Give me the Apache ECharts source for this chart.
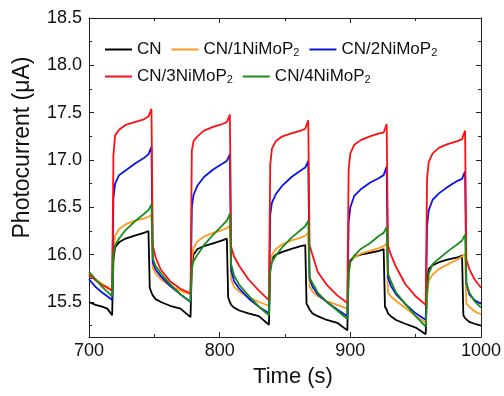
<!DOCTYPE html>
<html><head><meta charset="utf-8">
<script src="https://cdn.jsdelivr.net/npm/echarts@6/dist/echarts.min.js"></script>
<style>html,body{margin:0;padding:0;background:#fff}#c{width:504px;height:396px}</style>
</head><body><div id="c"></div>
<script>
const times = [700,705,710,714,
717.7,718.7,720,723,728,735,742,745.5,746.5,747.8,748.8,751,755,762,770,
777.7,778.7,780,783,788,795,802,805.5,806.5,807.8,808.8,811,815,822,830,
837.7,838.7,840,843,848,855,862,865.5,866.5,867.8,868.8,871,875,882,890,
897.7,898.7,900,903,908,915,922,925.5,926.5,927.8,928.8,931,935,942,950,
957.7,958.7,960,963,968,975,982,985.5,986.5,987.8,988.8,991,995,1000];

const cnValues = [15.50,15.47,15.45,15.43,
15.36,15.95,16.08,16.13,16.17,16.20,16.23,16.25,15.65,15.60,15.57,15.53,15.50,15.46,15.43,
15.34,15.90,16.00,16.06,16.09,16.12,16.15,16.17,15.55,15.50,15.47,15.44,15.41,15.38,15.35,
15.26,15.85,15.96,16.00,16.03,16.06,16.09,16.10,15.48,15.45,15.42,15.38,15.35,15.31,15.28,
15.20,15.82,15.94,15.98,16.00,16.02,16.04,16.06,15.45,15.42,15.38,15.35,15.31,15.27,15.23,
15.16,15.70,15.85,15.89,15.92,15.95,15.97,15.99,15.36,15.33,15.31,15.29,15.27,15.25];

const cn1Values = [15.80,15.74,15.69,15.66,
15.62,16.05,16.20,16.27,16.32,16.36,16.38,16.40,16.41,16.42,15.86,15.80,15.74,15.67,15.62,
15.58,15.95,16.07,16.14,16.19,16.23,16.26,16.28,16.29,16.31,15.74,15.66,15.61,15.55,15.50,
15.46,15.88,16.00,16.06,16.11,16.15,16.18,16.20,16.21,16.23,15.66,15.61,15.56,15.51,15.47,
15.43,15.80,15.92,15.97,16.01,16.04,16.07,16.09,16.10,16.12,15.60,15.56,15.51,15.44,15.35,
15.28,15.55,15.73,15.79,15.85,15.90,15.95,15.98,15.99,16.01,15.48,15.45,15.40,15.37];

const cn2Values = [15.74,15.66,15.60,15.56,
15.52,16.60,16.75,16.84,16.89,16.96,17.02,17.06,17.07,17.14,15.92,15.84,15.77,15.67,15.58,
15.50,16.50,16.63,16.73,16.82,16.90,16.96,16.99,17.00,17.06,15.84,15.72,15.64,15.54,15.45,
15.38,16.42,16.55,16.64,16.73,16.82,16.89,16.92,16.93,16.99,15.75,15.66,15.58,15.50,15.42,
15.35,16.35,16.50,16.62,16.69,16.76,16.81,16.84,16.86,16.93,15.76,15.67,15.58,15.48,15.38,
15.31,16.30,16.47,16.58,16.65,16.72,16.78,16.80,16.81,16.88,15.70,15.58,15.52,15.48];

const cn3Values = [15.79,15.73,15.68,15.65,
15.62,17.05,17.26,17.32,17.37,17.40,17.43,17.46,17.47,17.54,16.10,15.97,15.84,15.72,15.64,
15.59,17.10,17.20,17.25,17.31,17.35,17.38,17.40,17.41,17.48,16.08,15.98,15.88,15.74,15.62,
15.52,16.95,17.12,17.20,17.25,17.28,17.31,17.33,17.34,17.42,16.10,16.00,15.82,15.68,15.57,
15.49,16.90,17.07,17.16,17.21,17.25,17.28,17.29,17.30,17.38,16.10,16.00,15.87,15.69,15.56,
15.47,16.80,16.98,17.07,17.13,17.17,17.20,17.22,17.23,17.31,15.95,15.85,15.74,15.65];

const cn4Values = [15.82,15.74,15.66,15.61,
15.56,16.00,16.10,16.17,16.26,16.35,16.43,16.47,16.48,16.53,15.96,15.88,15.80,15.69,15.58,
15.50,15.85,15.93,16.00,16.10,16.21,16.31,16.36,16.37,16.43,15.90,15.78,15.68,15.57,15.45,
15.36,15.82,15.92,15.99,16.08,16.18,16.26,16.30,16.31,16.36,15.76,15.70,15.60,15.50,15.41,
15.32,15.80,15.92,15.99,16.06,16.12,16.20,16.23,16.25,16.29,15.80,15.72,15.60,15.48,15.35,
15.24,15.60,15.80,15.90,15.96,16.04,16.11,16.15,16.16,16.21,15.70,15.60,15.51,15.44];

const seriesNames = ['CN','CN/1NiMoP2','CN/2NiMoP2','CN/3NiMoP2','CN/4NiMoP2'];
const seriesColors = ['#000000','#ff9a1e','#0a14e6','#ff1010','#1a8c1a'];
const seriesValues = [cnValues, cn1Values, cn2Values, cn3Values, cn4Values];

const yMajorTicks = [15.5,16.0,16.5,17.0,17.5,18.0,18.5];
const yMinorTicks = [15.25,15.75,16.25,16.75,17.25,17.75,18.25];
const yMin = 15.13, yMax = 18.5;

const font = 'Liberation Sans, Arial, sans-serif';
const axisColor = '#222';

const chart = echarts.init(document.getElementById('c'), null, {renderer:'canvas'});

function legendFmt(name){
  return name.endsWith('P2') ? name.slice(0,-1) + '{s|2}' : name;
}
const legendBase = {
  orient:'horizontal', icon:'rect', itemWidth:27, itemHeight:2, itemGap:10,
  formatter: legendFmt, selectedMode:false,
  textStyle:{fontFamily:font, fontSize:17, color:'#111',
    rich:{s:{fontFamily:font, fontSize:11, color:'#111', verticalAlign:'bottom', lineHeight:11, padding:[11,0,0,0]}}}
};

const xAxisBase = {type:'value', min:700, max:1000, interval:100,
  axisLine:{show:true, onZero:false, lineStyle:{color:axisColor, width:1}},
  axisTick:{show:true, inside:true, length:5, lineStyle:{color:axisColor}},
  minorTick:{show:true, splitNumber:2, length:3, lineStyle:{color:axisColor}},
  splitLine:{show:false}, minorSplitLine:{show:false}};

const yAxisBase = {type:'value', min:yMin, max:yMax,
  axisLine:{show:true, onZero:false, lineStyle:{color:axisColor, width:1}},
  splitLine:{show:false}};

chart.setOption({
  animation:false,
  backgroundColor:'#fff',
  grid:{left:89, right:23, top:18, bottom:59, containLabel:false, outerBoundsMode:'none'},
  legend:[
    Object.assign({}, legendBase, {left:100, top:31, data:seriesNames.slice(0,3)}),
    Object.assign({}, legendBase, {left:100, top:58, data:seriesNames.slice(3)})
  ],
  xAxis:[
    Object.assign({}, xAxisBase, {position:'bottom', name:'Time (s)', nameLocation:'middle', nameGap:29,
      nameTextStyle:{fontFamily:font, fontSize:22, color:'#111', padding:[0,0,0,16]},
      axisLabel:{show:true, fontFamily:font, fontSize:18, color:'#111', margin:5, formatter:v=>String(v)}}),
    Object.assign({}, xAxisBase, {position:'top', axisLabel:{show:false}})
  ],
  yAxis:[
    Object.assign({}, yAxisBase, {position:'left', name:'Photocurrent (\u03bcA)', nameLocation:'middle', nameGap:55,
      nameTextStyle:{fontFamily:font, fontSize:23, color:'#111', padding:[0,0,0,60]},
      axisTick:{show:true, inside:true, length:5, customValues:yMajorTicks, lineStyle:{color:axisColor}},
      axisLabel:{show:true, fontFamily:font, fontSize:18, color:'#111', margin:7,
        customValues:yMajorTicks, formatter:v=>v.toFixed(1)}}),
    Object.assign({}, yAxisBase, {position:'right',
      axisTick:{show:true, inside:true, length:5, customValues:yMajorTicks, lineStyle:{color:axisColor}},
      axisLabel:{show:false}}),
    Object.assign({}, yAxisBase, {position:'left', axisLine:{show:false},
      axisTick:{show:true, inside:true, length:3, customValues:yMinorTicks, lineStyle:{color:axisColor}},
      axisLabel:{show:false}}),
    Object.assign({}, yAxisBase, {position:'right', axisLine:{show:false},
      axisTick:{show:true, inside:true, length:3, customValues:yMinorTicks, lineStyle:{color:axisColor}},
      axisLabel:{show:false}})
  ],
  series: seriesNames.map((name,i)=>({
    name:name, type:'line', xAxisIndex:0, yAxisIndex:0, showSymbol:false, symbol:'none',
    smooth:false, color:seriesColors[i],
    lineStyle:{color:seriesColors[i], width:1.8},
    data: times.map((t,j)=>[t, seriesValues[i][j]])
  }))
});
</script></body></html>
